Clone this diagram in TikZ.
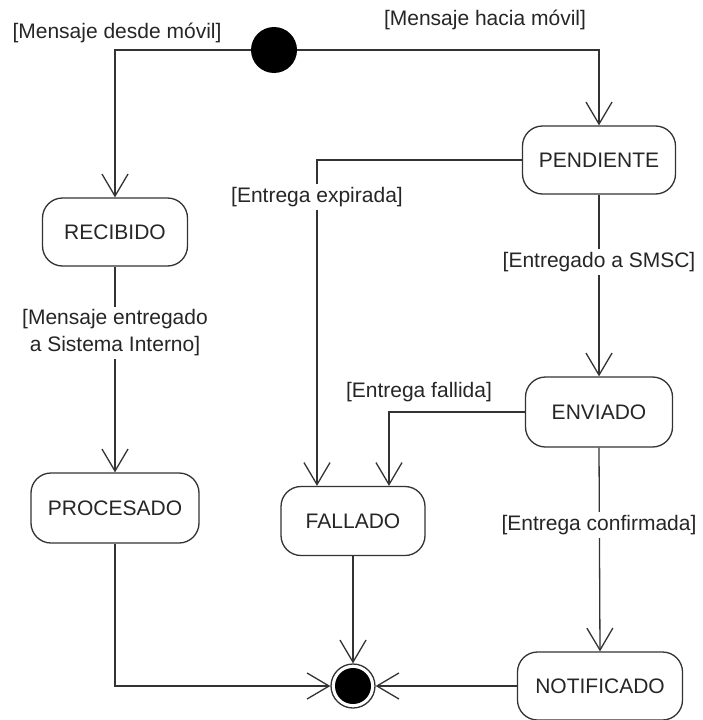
\documentclass[tikz,border=0pt]{standalone}
\usepackage{fontspec}
\setmainfont{Liberation Sans}
\usetikzlibrary{arrows.meta}
\begin{document}
\begin{tikzpicture}[x=1pt,y=-1pt,
  state/.style={draw=black!80, line width=1.3pt, rounded corners=20pt, fill=white,
    font=\fontsize{21}{25}\selectfont, text=black!85, inner sep=0pt},
  lbl/.style={font=\fontsize{21}{27}\selectfont, text=black!85, inner sep=1pt, align=center},
  gap/.style={lbl, fill=white, inner sep=3pt},
  conn/.style={draw=black!80, line width=1.3pt,
    -{Straight Barb[length=22pt,width=26pt,line width=1.3pt]}},
  plain/.style={draw=black!80, line width=1.3pt}
]
\useasboundingbox[fill=white] (0,0) rectangle (703,720);

% states
\node[circle, fill=black, minimum size=46pt, inner sep=0pt] (ini) at (274,50) {};
\node[state, minimum width=153pt, minimum height=68pt] (pend) at (599,160) {PENDIENTE};
\node[state, minimum width=145pt, minimum height=68pt] (rec) at (115,232) {RECIBIDO};
\node[state, minimum width=147pt, minimum height=70pt] (env) at (599,412) {ENVIADO};
\node[state, minimum width=168pt, minimum height=70pt] (proc) at (115,508) {PROCESADO};
\node[state, minimum width=144pt, minimum height=69pt] (fall) at (353,521) {FALLADO};
\node[state, minimum width=165pt, minimum height=68pt] (notif) at (600,686) {NOTIFICADO};
\node[circle, draw=black!80, line width=1.3pt, minimum size=44pt, inner sep=0pt] (fin) at (353,686) {};
\fill[black] (fin.center) circle (18pt);

% connectors
\draw[conn] (ini.west) -| (rec.north);
\draw[conn] (ini.east) -| (pend.north);
\coordinate (pexp) at (317,160);
\draw[conn] (pend.west) -- (pexp) -- (pexp |- fall.north);
\coordinate (efal) at (389,412);
\draw[conn] (env.west) -- (efal) -- (efal |- fall.north);
\draw[conn] (rec.south) -- (proc.north);
\draw[conn] (pend.south) -- (env.north);
\draw[conn] (env.south) -- (notif.north);
\draw[conn] (proc.south) |- (fin.west);
\draw[conn] (fall.south) -- (fin.north);
\draw[conn] (notif.west) -- (fin.east);

% labels
\node[lbl] (l1) at (117,33) {[Mensaje desde móvil]};
\node[lbl] (l2) at (485,20) {[Mensaje hacia móvil]};
\node[gap] (l3) at (317,197) {[Entrega expirada]};
\node[gap] (l4) at (115,333) {[Mensaje entregado\\a Sistema Interno]};
\node[gap] (l5) at (599,262) {[Entregado a SMSC]};
\node[lbl] (l6) at (419,392) {[Entrega fallida]};
\node[gap] (l7) at (599,525) {[Entrega confirmada]};
\end{tikzpicture}
\end{document}
